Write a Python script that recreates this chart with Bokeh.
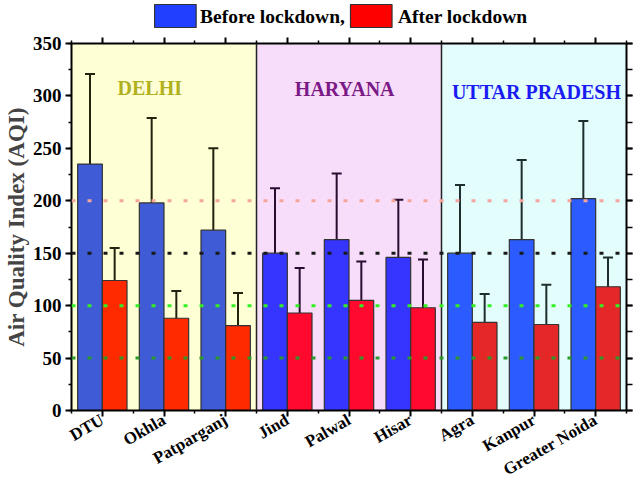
import math
import numpy as np
from bokeh.plotting import figure
from bokeh.layouts import column
from bokeh.models import (ColumnDataSource, Whisker, TeeHead, Span, BoxAnnotation, Label,
                          LinearAxis, FixedTicker, SingleIntervalTicker, Range1d)
from bokeh.core.properties import value
from bokeh.embed import file_html
from bokeh.resources import INLINE

# ---------------- data ----------------
sites = ["DTU", "Okhla", "Patparganj", "Jind", "Palwal", "Hisar", "Agra", "Kanpur", "Greater Noida"]
regions = ["DELHI", "HARYANA", "UTTAR PRADESH"]
site_region = [0, 0, 0, 1, 1, 1, 2, 2, 2]
before_aqi = [235, 198, 172, 150, 163, 146, 150, 163, 202]
before_err = [86, 81, 78, 62, 63, 55, 65, 76, 74]
after_aqi = [124, 88, 81, 93, 105, 98, 84, 82, 118]
after_err = [31, 26, 31, 43, 37, 46, 27, 38, 28]
aqi_limits = [200, 150, 100, 50]
series_labels = ["Before lockdown,", "After lockdown"]

# ---------------- style ----------------
FONT = "Liberation Serif"
region_bg = ["#FFFFD5", "#F7DDFA", "#E3FCFC"]
region_text_color = ["#B0B020", "#7B1A87", "#1A1AF2"]
region_label_x = [1.77, 4.93, 8.04]
region_label_y = [308, 307, 304]
blue_fill = ["#3F5BD6", "#3535FF", "#2C5CFF"]
red_fill = ["#FF2A00", "#FF0A2E", "#E42828"]
err_color = ["#22220E", "#2A0C30", "#1E2E2E"]
limit_colors = ["#F7A49A", "#1A1A1A", "#33EE22", "#2A9A2A"]
legend_colors = ["#2040FF", "#FF0000"]
BAR_W = 0.4
W = 633
LEG_H = 30

pos = np.arange(1, len(sites) + 1)

# ---------------- legend strip (page-pixel coordinates over the plot frame) ----------------
leg = figure(width=W, height=LEG_H, x_range=Range1d(73, 634), y_range=Range1d(0, LEG_H),
             output_backend="svg", toolbar_location=None, x_axis_type=None, y_axis_type=None,
             min_border=0, outline_line_color=None, background_fill_color="white",
             border_fill_color="white")
leg.grid.visible = False
box_x = [178, 376]
text_x = [203, 403]
leg.rect(x=box_x, y=[14.5, 14.5], width=42, height=23, fill_color=legend_colors,
         line_color="#333333", line_width=1.2)
leg.text(x=text_x, y=[14.5, 14.5], text=series_labels, text_font=value(FONT), text_font_style="bold",
         text_font_size="19.5px", text_baseline="middle", text_align="left", text_color="black")

# ---------------- main plot ----------------
p = figure(width=W, height=460, x_range=Range1d(0.5, len(sites) + 0.5), y_range=Range1d(0, 350),
           output_backend="svg", toolbar_location=None,
           min_border_left=65, min_border_right=7, min_border_top=13, min_border_bottom=80,
           outline_line_color=None, background_fill_color="white", border_fill_color="white")
p.grid.visible = False

# background regions
for r in range(len(regions)):
    idx = [i for i, g in enumerate(site_region) if g == r]
    p.add_layout(BoxAnnotation(left=pos[min(idx)] - 0.5, right=pos[max(idx)] + 0.5,
                               fill_color=region_bg[r], fill_alpha=1.0, line_color=None,
                               level="underlay"))

# bars
b_colors = [blue_fill[g] for g in site_region]
a_colors = [red_fill[g] for g in site_region]
src = ColumnDataSource(dict(xb=pos - BAR_W / 2, xa=pos + BAR_W / 2, before=before_aqi, after=after_aqi,
                            bc=b_colors, ac=a_colors))
p.vbar(x="xb", top="before", width=BAR_W, fill_color="bc", line_color="#333333", line_width=1.2, source=src)
p.vbar(x="xa", top="after", width=BAR_W, fill_color="ac", line_color="#333333", line_width=1.2, source=src)

# dividers
for r in range(1, len(regions)):
    idx = [i for i, g in enumerate(site_region) if g == r]
    p.add_layout(Span(location=pos[min(idx)] - 0.5, dimension="height", line_color="#222222", line_width=1.5))

# AQI limit lines
for lim, col in zip(aqi_limits, limit_colors):
    p.add_layout(Span(location=lim, dimension="width", line_color=col, line_width=3, line_dash="4 12"))

# error bars
for r in range(len(regions)):
    idx = [i for i, g in enumerate(site_region) if g == r]
    xs = [pos[i] - BAR_W / 2 for i in idx] + [pos[i] + BAR_W / 2 for i in idx]
    lo = [before_aqi[i] - before_err[i] for i in idx] + [after_aqi[i] - after_err[i] for i in idx]
    hi = [before_aqi[i] + before_err[i] for i in idx] + [after_aqi[i] + after_err[i] for i in idx]
    wsrc = ColumnDataSource(dict(x=xs, lower=lo, upper=hi))
    p.add_layout(Whisker(source=wsrc, base="x", lower="lower", upper="upper", dimension="height",
                         line_color=err_color[r], line_width=2,
                         upper_head=TeeHead(size=10, line_color=err_color[r], line_width=2),
                         lower_head=TeeHead(size=10, line_color=err_color[r], line_width=2)))

# region labels
for r, name in enumerate(regions):
    p.add_layout(Label(x=region_label_x[r], y=region_label_y[r], text=name, text_align="center",
                       text_baseline="middle", text_font=FONT, text_font_style="bold",
                       text_font_size="20px", text_color=region_text_color[r]))

# axes
def style_axis(ax):
    ax.axis_line_color = "black"
    ax.axis_line_width = 2
    ax.major_tick_line_color = "black"
    ax.major_tick_line_width = 2
    ax.minor_tick_line_color = "black"
    ax.minor_tick_line_width = 1.5
    ax.major_tick_in = 0
    ax.major_tick_out = 6
    ax.minor_tick_in = 0
    ax.minor_tick_out = 3
    ax.major_label_text_font = FONT
    ax.major_label_text_font_style = "bold"
    ax.major_label_text_color = "black"

xticker = FixedTicker(ticks=[int(v) for v in pos], minor_ticks=[float(v) - 0.5 for v in pos] + [pos[-1] + 0.5])
yticker = SingleIntervalTicker(interval=50, num_minor_ticks=2)

xa = p.xaxis[0]
style_axis(xa)
xa.ticker = xticker
xa.major_label_overrides = {int(v): s for v, s in zip(pos, sites)}
xa.major_label_orientation = math.pi / 6
xa.major_label_standoff = 2
xa.major_label_text_font_size = "17px"

ya = p.yaxis[0]
style_axis(ya)
ya.ticker = yticker
ya.major_label_text_font_size = "19px"
ya.major_label_standoff = 4
ya.axis_label = "Air Quality Index (AQI)"
ya.axis_label_text_font = FONT
ya.axis_label_text_font_style = "bold"
ya.axis_label_text_font_size = "23px"
ya.axis_label_standoff = 1

top = LinearAxis(ticker=xticker)
style_axis(top)
top.major_label_overrides = {int(v): "" for v in pos}
top.major_label_standoff = 0
top.major_label_text_font_size = "1px"
p.add_layout(top, "above")

right = LinearAxis(ticker=yticker)
style_axis(right)
right.minor_tick_out = 6
right.major_label_overrides = {v: "" for v in range(0, 351, 50)}
right.major_label_standoff = 0
right.major_label_text_font_size = "1px"
p.add_layout(right, "right")

layout = column(leg, p, spacing=0)
open("out.html", "w").write(file_html(layout, INLINE))
